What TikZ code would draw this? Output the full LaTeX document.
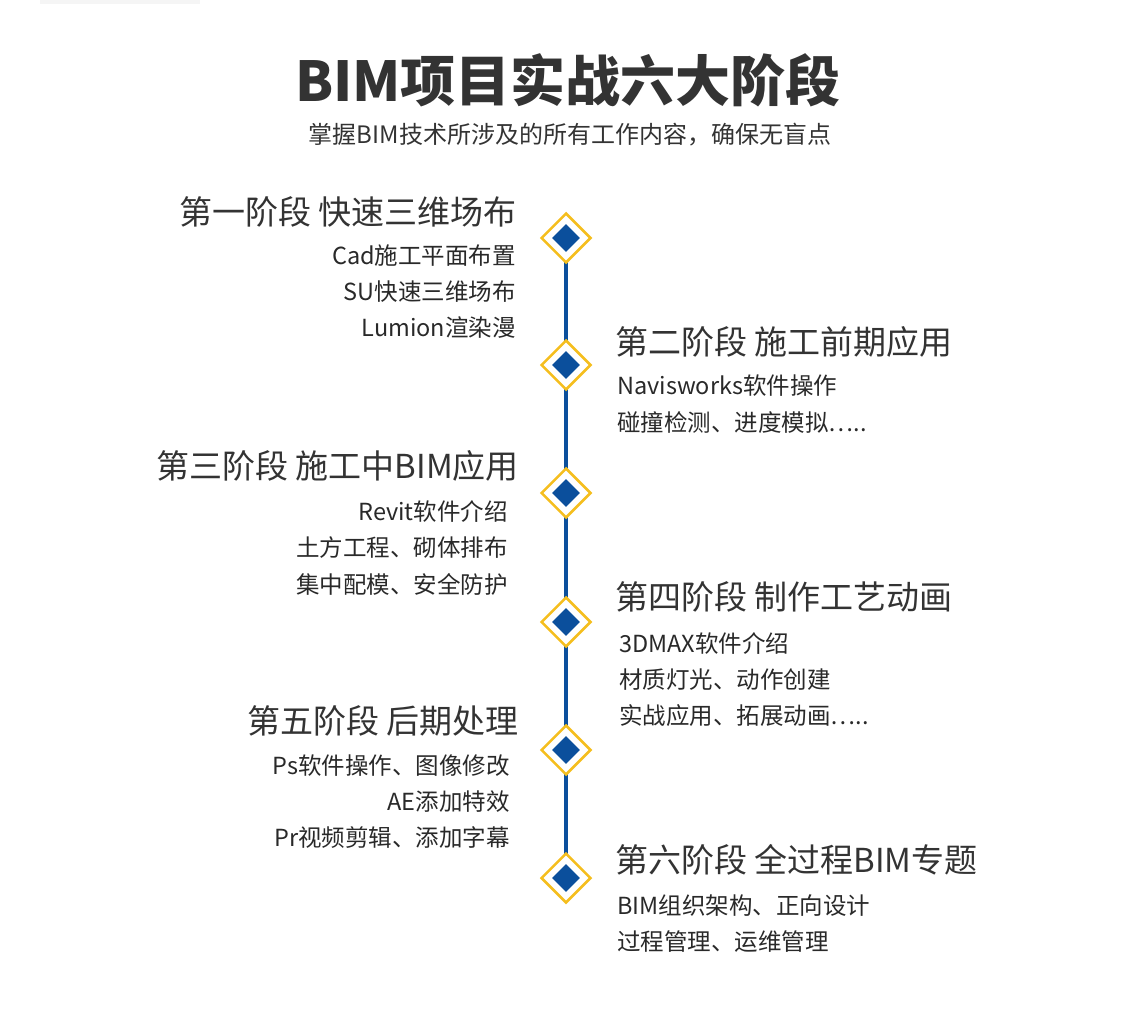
\documentclass[tikz,border=0pt]{standalone}
\usepackage{fontspec}
\setmainfont{Noto Sans CJK SC}
\usetikzlibrary{shapes.geometric}
\definecolor{lineblue}{HTML}{0B4F9C}
\definecolor{markyellow}{HTML}{F5BE1E}
\definecolor{textgray}{HTML}{333333}
\tikzset{
  stagehead/.style={font=\fontsize{33}{36}\selectfont, text=textgray, inner sep=0pt},
  stageitem/.style={font=\fontsize{23.5}{26}\selectfont, text=textgray!80!black, inner sep=0pt},
  outerdia/.style={diamond, draw=markyellow, line width=2.5pt, fill=white, minimum size=50pt, inner sep=0pt},
  innerdia/.style={diamond, fill=lineblue, minimum size=28pt, inner sep=0pt},
}
\begin{document}
\begin{tikzpicture}[x=1pt,y=-1pt]
\useasboundingbox (0,0) rectangle (1140,1027);
\fill[gray!8] (40,0) rectangle (200,4);
\node[font=\fontsize{55}{60}\selectfont\bfseries, text=textgray] (title) at (568,80) {BIM项目实战六大阶段};
\node[font=\fontsize{24}{28}\selectfont, text=textgray] (sub) at (570,135) {掌握BIM技术所涉及的所有工作内容，确保无盲点};
% timeline
\coordinate (top) at (566,238);
\coordinate (bot) at (566,878);
\draw [lineblue, line width=4pt] (top) -- (bot);
\node [outerdia] (d1) at (566,238) {};
\node [outerdia] (d2) at (566,365) {};
\node [outerdia] (d3) at (566,493) {};
\node [outerdia] (d4) at (566,622) {};
\node [outerdia] (d5) at (566,750) {};
\node [outerdia] (d6) at (566,878) {};
\node [innerdia] at (d1) {};
\node [innerdia] at (d2) {};
\node [innerdia] at (d3) {};
\node [innerdia] at (d4) {};
\node [innerdia] at (d5) {};
\node [innerdia] at (d6) {};
% stage 1
\node [stagehead, anchor=east] (s1) at (517,212) {第一阶段 快速三维场布};
\node [stageitem, anchor=east] (s1a) at (516,256) {Cad施工平面布置};
\node [stageitem, anchor=east] (s1b) at (516,292) {SU快速三维场布};
\node [stageitem, anchor=east] (s1c) at (516,328) {Lumion渲染漫};
% stage 2
\node [stagehead, anchor=west] (s2) at (615,342) {第二阶段 施工前期应用};
\node [stageitem, anchor=west] (s2a) at (617,386) {Navisworks软件操作};
\node [stageitem, anchor=west] (s2b) at (617,422) {碰撞检测、进度模拟…..};
% stage 3
\node [stagehead, anchor=east] (s3) at (519,466) {第三阶段 施工中BIM应用};
\node [stageitem, anchor=east] (s3a) at (508,512) {Revit软件介绍};
\node [stageitem, anchor=east] (s3b) at (508,548) {土方工程、砌体排布};
\node [stageitem, anchor=east] (s3c) at (508,584) {集中配模、安全防护};
% stage 4
\node [stagehead, anchor=west] (s4) at (615,597) {第四阶段 制作工艺动画};
\node [stageitem, anchor=west] (s4a) at (619,644) {3DMAX软件介绍};
\node [stageitem, anchor=west] (s4b) at (619,680) {材质灯光、动作创建};
\node [stageitem, anchor=west] (s4c) at (619,716) {实战应用、拓展动画…..};
% stage 5
\node [stagehead, anchor=east] (s5) at (519,721) {第五阶段 后期处理};
\node [stageitem, anchor=east] (s5a) at (510,766) {Ps软件操作、图像修改};
\node [stageitem, anchor=east] (s5b) at (510,802) {AE添加特效};
\node [stageitem, anchor=east] (s5c) at (510,838) {Pr视频剪辑、添加字幕};
% stage 6
\node [stagehead, anchor=west] (s6) at (615,860) {第六阶段 全过程BIM专题};
\node [stageitem, anchor=west] (s6a) at (617,906) {BIM组织架构、正向设计};
\node [stageitem, anchor=west] (s6b) at (617,942) {过程管理、运维管理};
\end{tikzpicture}
\end{document}
